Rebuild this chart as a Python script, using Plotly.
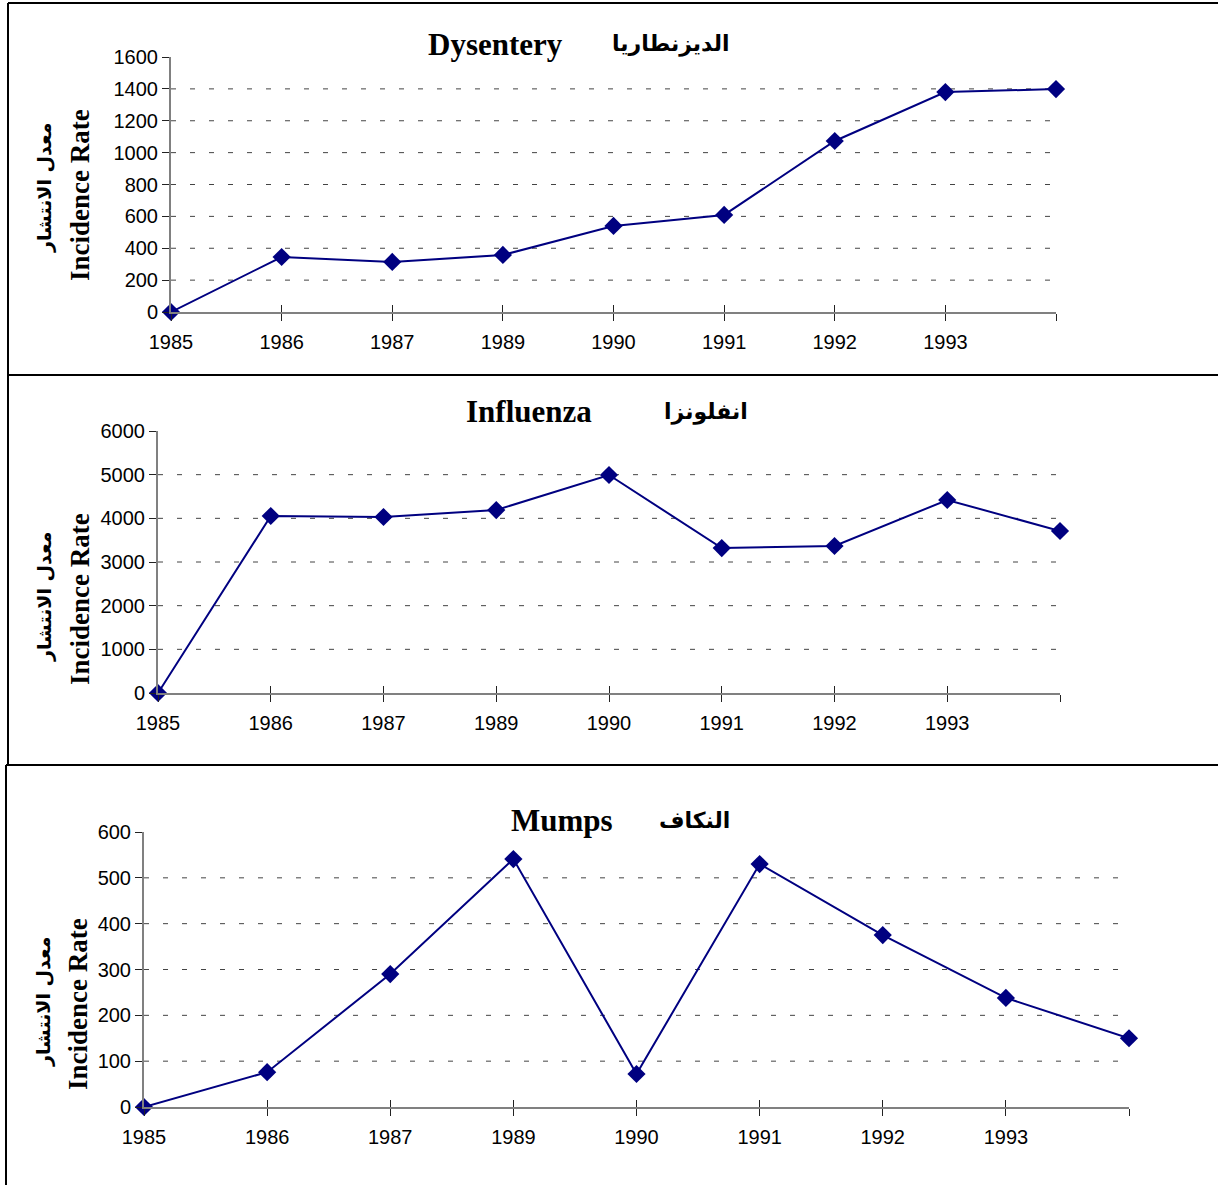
import plotly.graph_objects as go

W, H = 1218, 1185

# ---- data ----
year_labels = ["1985", "1986", "1987", "1989", "1990", "1991", "1992", "1993", ""]
dysentery = [0, 345, 314, 358, 540, 609, 1073, 1380, 1399]
influenza = [0, 4053, 4030, 4190, 4992, 3320, 3366, 4420, 3710]
mumps = [0, 76, 290, 541, 72, 530, 375, 238, 150]

titles_en = ["Dysentery", "Influenza", "Mumps"]
titles_ar = ["الديزنطاريا", "انفلونزا", "النكاف"]
ytitle_en = "Incidence Rate"
ytitle_ar = "معدل الانتشار"
series = [dysentery, influenza, mumps]
y_max = [1600, 6000, 600]
y_dtick = [200, 1000, 100]


def px(x):
    return x / W


def py(y):
    return 1 - y / H


# pixel layout for each panel: (left, right, top, bottom)
plot_boxes = [(171, 1056, 57, 312), (158, 1060, 431, 693), (144, 1129, 832, 1107)]
title_pos = [((495, 671), 44), ((529, 706), 412), ((562, 694), 820)]
ytitle_pos = [((44, 188), (80, 195)), ((44, 597), (80, 599)), ((43, 1002), (78, 1004))]

xpos = list(range(len(year_labels)))
NAVY = "#000080"

fig = go.Figure()
layout = dict(
    template="none",
    width=W, height=H, margin=dict(l=0, r=0, t=0, b=0, pad=0, autoexpand=False),
    paper_bgcolor="white", plot_bgcolor="white", showlegend=False,
)
annotations = []
shapes = []

for i, (vals, ymx, dt) in enumerate(zip(series, y_max, y_dtick)):
    n = i + 1
    sx = "" if n == 1 else str(n)
    ox = str(n + 3)
    l, r, t, b = plot_boxes[i]
    fig.add_trace(go.Scatter(
        x=xpos, y=vals, mode="lines+markers",
        line=dict(color=NAVY, width=2),
        marker=dict(symbol="diamond", size=14, color=NAVY, line=dict(width=0)),
        cliponaxis=False, xaxis="x" + sx, yaxis="y" + sx, hoverinfo="skip",
    ))
    # empty trace on the overlay axis (for the inner half of cross ticks)
    fig.add_trace(go.Scatter(x=[], y=[], xaxis="x" + ox, yaxis="y" + sx,
                             hoverinfo="skip"))
    dom_x = [px(l), px(r)]
    dom_y = [py(b), py(t)]
    layout["xaxis" + sx] = dict(
        domain=dom_x, anchor="y" + sx, range=[0, len(year_labels) - 1],
        tickmode="array", tickvals=xpos, ticktext=year_labels,
        ticks="outside", ticklen=7, tickwidth=1, tickcolor="#222222",
        ticklabelstandoff=4,
        showline=True, linecolor="#808080", linewidth=2,
        showgrid=False, zeroline=False, automargin=False,
        tickfont=dict(family="Liberation Sans, Arial", size=20, color="black"),
    )
    layout["xaxis" + ox] = dict(
        domain=dom_x, anchor="y" + sx, overlaying="x" + sx,
        range=[0, len(year_labels) - 1],
        tickmode="array", tickvals=xpos, ticktext=[""] * len(xpos),
        ticks="inside", ticklen=7, tickwidth=1, tickcolor="#222222",
        showline=False, showgrid=False, zeroline=False, showticklabels=False,
        automargin=False,
    )
    layout["yaxis" + sx] = dict(
        domain=dom_y, anchor="x" + sx, range=[0, ymx],
        tickmode="linear", tick0=0, dtick=dt,
        ticks="outside", ticklen=7, tickwidth=1, tickcolor="#222222",
        showline=True, linecolor="#808080", linewidth=2,
        showgrid=False, zeroline=False, automargin=False,
        tickfont=dict(family="Liberation Sans, Arial", size=20, color="black"),
    )
    # dashed gridlines, skipping 0 and the top value
    for k in range(1, int(ymx / dt)):
        shapes.append(dict(
            type="line", xref="x" + sx + " domain", yref="y" + sx,
            x0=0, x1=1, y0=k * dt, y1=k * dt,
            line=dict(color="#444444", width=1, dash="5px,14px"), layer="below",
        ))
    # titles
    (xe, xa), yt = title_pos[i]
    annotations.append(dict(
        text=titles_en[i], x=px(xe), y=py(yt), xref="paper", yref="paper",
        xanchor="center", yanchor="middle", showarrow=False,
        font=dict(family="Liberation Serif, Times New Roman", size=31,
                  color="black", weight="bold"),
    ))
    annotations.append(dict(
        text=titles_ar[i], x=px(xa), y=py(yt), xref="paper", yref="paper",
        xanchor="center", yanchor="middle", showarrow=False,
        font=dict(family="DejaVu Sans, Liberation Serif", size=22,
                  color="black", weight="bold"),
    ))
    (axx, axy), (exx, exy) = ytitle_pos[i]
    annotations.append(dict(
        text=ytitle_ar, x=px(axx), y=py(axy), xref="paper", yref="paper",
        xanchor="center", yanchor="middle", showarrow=False, textangle=-90,
        font=dict(family="DejaVu Sans, Liberation Serif", size=19,
                  color="black", weight="bold"),
    ))
    annotations.append(dict(
        text=ytitle_en, x=px(exx), y=py(exy), xref="paper", yref="paper",
        xanchor="center", yanchor="middle", showarrow=False, textangle=-90,
        font=dict(family="Liberation Serif, Times New Roman", size=27,
                  color="black", weight="bold"),
    ))

# panel frames
frame_lines = [
    (8, 3, W, 3), (8, 3, 8, 375), (8, 375, W, 375),
    (8, 375, 8, 765), (6, 765, W, 765), (6, 765, 6, H),
]
for x0, y0, x1, y1 in frame_lines:
    shapes.append(dict(type="line", xref="paper", yref="paper",
                       x0=px(x0), y0=py(y0), x1=px(x1), y1=py(y1),
                       line=dict(color="black", width=2)))

layout["annotations"] = annotations
layout["shapes"] = shapes
fig.update_layout(**layout)
fig.write_html("out.html")
